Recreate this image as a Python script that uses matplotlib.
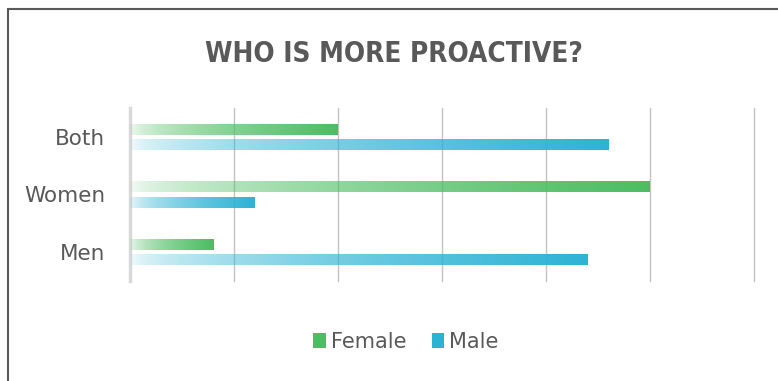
import numpy as np
import matplotlib
matplotlib.use("Agg")
import matplotlib.pyplot as plt
from matplotlib.patches import Rectangle, Patch
from matplotlib.colors import to_rgb

categories = ["Both", "Women", "Men"]
female = [2.0, 5.0, 0.8]
male = [4.6, 1.2, 4.4]
series_names = ["Female", "Male"]
series_colors = ["#4cbd62", "#2cb3d4"]
x_max = 6

W, H = 778, 381
fig = plt.figure(figsize=(W / 100, H / 100), dpi=100)
fig.patch.set_facecolor("white")

ax = fig.add_axes([130 / W, 1 - 281 / H, (754 - 130) / W, (281 - 108) / H])
y = np.arange(len(categories))
off = 0.135
h = 0.19

def gradient_bars(vals, ypos, color):
    bars = ax.barh(ypos, vals, height=h, color="none", edgecolor="none", zorder=3)
    rgb = np.array(to_rgb(color))
    n = 256
    t = np.linspace(0, 1, n)
    alpha = 0.04 + 0.96 * t ** 0.55
    img = np.zeros((1, n, 4))
    img[0, :, :3] = rgb
    img[0, :, 3] = alpha
    for b in bars:
        x0, y0 = b.get_x(), b.get_y()
        w, hh = b.get_width(), b.get_height()
        im = ax.imshow(img, extent=[x0, x0 + w, y0 + hh, y0], aspect="auto",
                       interpolation="bilinear", zorder=3)
        im.set_clip_path(b)
    return bars

gradient_bars(female, y - off, series_colors[0])
gradient_bars(male, y + off, series_colors[1])

ax.set_xlim(0, x_max)
ax.set_ylim(len(categories) - 0.5, -0.5)
ax.set_xticks(np.arange(0, x_max + 1, 1))
ax.set_xticklabels([])
ax.tick_params(axis="x", length=0)
ax.set_yticks(y)
ax.set_yticklabels(categories, fontsize=15.5, color="#595959", family="DejaVu Sans")
ax.tick_params(axis="y", length=0, pad=18)
ax.grid(axis="x", color="#c3c3c3", linewidth=1.0, zorder=0)
for gl in ax.get_xgridlines():
    gl.set_clip_on(False)
ax.set_axisbelow(True)
for s in ["top", "right", "bottom"]:
    ax.spines[s].set_visible(False)
ax.spines["left"].set_color("#d9d9d9")
ax.spines["left"].set_linewidth(2.5)

fig.text(394 / W, 1 - 54 / H, "WHO IS MORE PROACTIVE?", ha="center", va="center",
         fontsize=20, fontweight="bold", color="#595959", family="DejaVu Sans",
         fontstretch="condensed")

handles = [Patch(facecolor=c, edgecolor="none") for c in series_colors]
leg = fig.legend(handles, series_names, loc="center", bbox_to_anchor=(406 / W, 1 - 342 / H),
                 ncol=2, frameon=False, fontsize=15, handlelength=0.6, handleheight=0.75,
                 handletextpad=0.25, columnspacing=1.2)
for t in leg.get_texts():
    t.set_color("#595959")

fig.patches.append(Rectangle((8 / W, -0.1), 1.2, (H - 9) / H + 0.1, transform=fig.transFigure,
                             fill=False, edgecolor="#595959", linewidth=1.5, clip_on=False))

fig.savefig("out.png", dpi=100)
